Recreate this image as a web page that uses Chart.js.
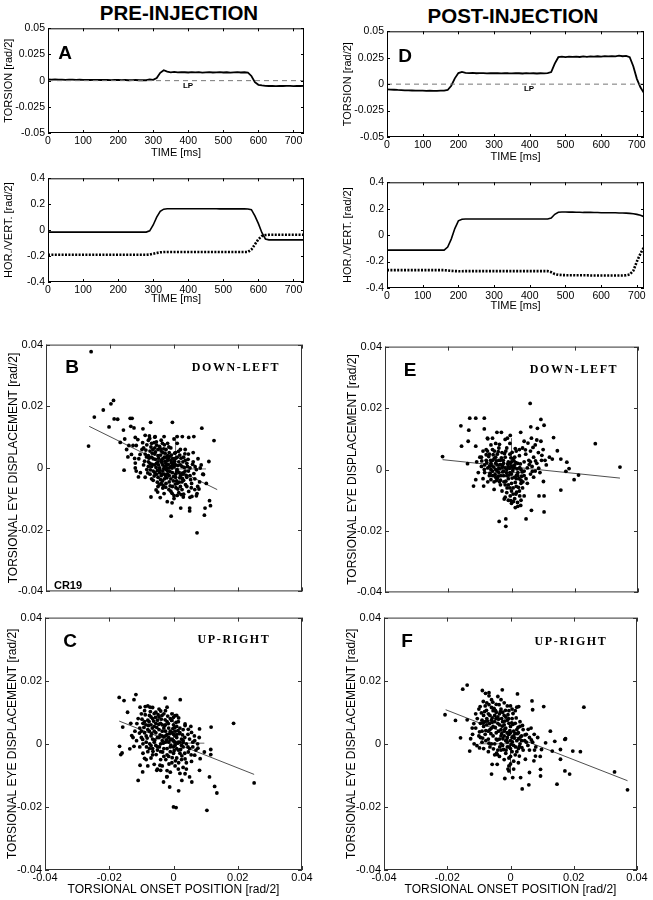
<!DOCTYPE html>
<html>
<head>
<meta charset="utf-8">
<script src="https://cdn.jsdelivr.net/npm/chart.js@4.4.1/dist/chart.umd.min.js"></script>
<style>
  body { margin: 0; background: #fff; width: 653px; height: 900px; position: relative; overflow: hidden;
         font-family: 'Liberation Sans', Arial, sans-serif; }
  canvas { position: absolute; }
  .t { position: absolute; transform: translate(-50%, -50%); white-space: nowrap; color: #000; line-height: 1; }
  .head { font-weight: bold; font-size: 20.5px; }
  .let { font-weight: bold; font-size: 19px; }
  .dir { font-family: 'Liberation Serif', 'DejaVu Serif', serif; font-weight: bold; font-size: 12px; letter-spacing: 1.6px; }
  .lp { font-weight: bold; font-size: 8px; }
  .cr { font-weight: bold; font-size: 11px; }
</style>
</head>
<body>
<!-- титулы колонок -->
<div class="t head" style="left:179px;top:13px">PRE-INJECTION</div>
<div class="t head" style="left:513px;top:16px">POST-INJECTION</div>

<canvas id="cA1"></canvas>
<canvas id="cA2"></canvas>
<canvas id="cD1"></canvas>
<canvas id="cD2"></canvas>
<canvas id="cB"></canvas>
<canvas id="cE"></canvas>
<canvas id="cC"></canvas>
<canvas id="cF"></canvas>

<!-- подписи панелей -->
<div class="t let" style="left:65px;top:52px">A</div>
<div class="t let" style="left:405px;top:55px">D</div>
<div class="t let" style="left:72px;top:366px">B</div>
<div class="t let" style="left:410px;top:369px">E</div>
<div class="t let" style="left:70px;top:640px">C</div>
<div class="t let" style="left:407px;top:640px">F</div>

<div class="t dir" style="left:236px;top:367px">DOWN-LEFT</div>
<div class="t dir" style="left:574px;top:369px">DOWN-LEFT</div>
<div class="t dir" style="left:234px;top:639px">UP-RIGHT</div>
<div class="t dir" style="left:571px;top:641px">UP-RIGHT</div>

<div class="t lp" style="left:188px;top:86px">LP</div>
<div class="t lp" style="left:529px;top:89px">LP</div>
<div class="t cr" style="left:68px;top:585px">CR19</div>

<script>
const SANS = "'Liberation Sans', Arial, sans-serif";

// ------------------------------------------------------------------
// Временные ряды (шаг 10 мс), торсия в единицах 1e-3 rad/2
// ------------------------------------------------------------------
const timeA = [0,10,20,30,40,50,60,70,80,90,100,110,120,130,140,150,160,170,180,190,
  200,210,220,230,240,250,260,270,280,290,300,310,320,330,340,350,360,370,380,390,
  400,410,420,430,440,450,460,470,480,490,500,510,520,530,540,550,560,570,580,590,
  600,610,620,630,640,650,660,670,680,690,700,710,720,730];
const torsionA = [1.2,1.0,1.1,0.9,1.0,0.8,1.0,0.9,0.8,0.9,
  0.7,0.8,0.6,0.7,0.8,0.6,0.7,0.6,0.5,0.6,
  0.7,0.5,0.6,0.4,0.5,0.6,0.4,0.5,0.4,1.2,
  0.8,2.5,7.5,10.0,8.6,8.0,8.3,7.9,8.1,8.0,
  7.8,8.2,7.9,8.1,7.7,8.0,8.2,7.8,7.9,8.1,
  7.8,8.0,7.7,7.9,8.1,7.8,8.0,7.6,4.5,-1.5,
  -4.0,-4.6,-4.9,-5.1,-5.0,-5.2,-5.0,-5.1,-4.9,-5.0,
  -5.2,-5.0,-5.1,-5.0];
const horA = [-0.015,-0.015,-0.015,-0.015,-0.015,-0.015,-0.015,-0.015,-0.015,-0.015,
  -0.015,-0.015,-0.015,-0.015,-0.015,-0.015,-0.015,-0.015,-0.015,-0.015,
  -0.015,-0.015,-0.015,-0.015,-0.015,-0.015,-0.015,-0.015,-0.015,-0.005,
  0.04,0.10,0.145,0.162,0.165,0.165,0.165,0.165,0.165,0.165,
  0.165,0.165,0.165,0.165,0.165,0.165,0.165,0.165,0.165,0.164,
  0.164,0.164,0.164,0.164,0.164,0.164,0.164,0.163,0.158,0.11,
  0.05,-0.02,-0.068,-0.075,-0.075,-0.075,-0.075,-0.075,-0.075,-0.075,
  -0.075,-0.075,-0.075,-0.075];
const vertA = [-0.19,-0.19,-0.19,-0.19,-0.19,-0.19,-0.19,-0.19,-0.19,-0.19,
  -0.19,-0.19,-0.19,-0.19,-0.19,-0.19,-0.19,-0.19,-0.19,-0.19,
  -0.19,-0.19,-0.19,-0.19,-0.19,-0.19,-0.19,-0.19,-0.19,-0.188,
  -0.182,-0.176,-0.171,-0.169,-0.168,-0.168,-0.168,-0.168,-0.168,-0.168,
  -0.168,-0.168,-0.168,-0.168,-0.168,-0.168,-0.168,-0.168,-0.168,-0.168,
  -0.168,-0.168,-0.168,-0.168,-0.168,-0.168,-0.168,-0.168,-0.15,-0.11,
  -0.07,-0.045,-0.038,-0.036,-0.036,-0.036,-0.036,-0.036,-0.036,-0.036,
  -0.036,-0.036,-0.036,-0.036];

const timeD = [0,10,20,30,40,50,60,70,80,90,100,110,120,130,140,150,160,170,180,190,
  200,210,220,230,240,250,260,270,280,290,300,310,320,330,340,350,360,370,380,390,
  400,410,420,430,440,450,460,470,480,490,500,510,520,530,540,550,560,570,580,590,
  600,610,620,630,640,650,660,670,680,690,700,710,720];
const torsionD = [-5.0,-5.2,-5.3,-5.5,-5.6,-5.8,-5.9,-6.0,-6.1,-6.2,
  -6.1,-6.3,-6.2,-6.4,-6.3,-6.2,-6.1,-5.5,-1.5,5.5,
  10.5,11.6,10.7,10.4,10.6,10.3,10.5,10.4,10.2,10.5,
  10.3,10.4,10.2,10.5,10.3,10.2,10.4,10.3,10.1,10.4,
  10.2,10.3,10.1,10.3,10.2,10.4,11.5,19.5,25.5,26.0,
  25.6,26.0,25.8,26.1,25.7,26.2,25.9,26.3,26.0,26.4,
  26.1,26.5,26.2,26.6,26.3,27.0,26.4,26.7,25.5,17.0,
  5.0,-3.0,-8.5];
const horD = [-0.113,-0.113,-0.113,-0.113,-0.113,-0.113,-0.113,-0.113,-0.113,-0.113,
  -0.113,-0.113,-0.113,-0.113,-0.113,-0.113,-0.113,-0.09,-0.03,0.05,
  0.108,0.12,0.122,0.122,0.122,0.122,0.122,0.122,0.122,0.122,
  0.122,0.122,0.122,0.122,0.122,0.122,0.122,0.122,0.122,0.122,
  0.122,0.122,0.122,0.122,0.122,0.122,0.13,0.158,0.173,0.175,
  0.175,0.174,0.174,0.173,0.173,0.172,0.172,0.172,0.171,0.171,
  0.170,0.170,0.170,0.169,0.169,0.168,0.168,0.167,0.165,0.162,
  0.157,0.15,0.14];
const vertD = [-0.265,-0.265,-0.265,-0.265,-0.265,-0.265,-0.265,-0.265,-0.265,-0.265,
  -0.265,-0.265,-0.265,-0.265,-0.265,-0.265,-0.265,-0.267,-0.27,-0.272,
  -0.273,-0.273,-0.272,-0.272,-0.272,-0.272,-0.272,-0.272,-0.272,-0.272,
  -0.272,-0.272,-0.272,-0.272,-0.272,-0.272,-0.272,-0.272,-0.272,-0.272,
  -0.272,-0.272,-0.272,-0.272,-0.272,-0.272,-0.28,-0.295,-0.30,-0.302,
  -0.303,-0.303,-0.303,-0.304,-0.304,-0.304,-0.304,-0.305,-0.305,-0.305,
  -0.305,-0.305,-0.305,-0.305,-0.305,-0.305,-0.305,-0.304,-0.298,-0.27,
  -0.2,-0.14,-0.09];

const zeroA = [[0, 0], [730, 0]];
const zeroD = [[0, 0], [720, 0]];

const timeTicks = [0, 100, 200, 300, 400, 500, 600, 700];
const torsionTicks = [-0.05, -0.025, 0, 0.025, 0.05];
const hvTicks = [-0.4, -0.2, 0, 0.2, 0.4];
const scatTicks = [-0.04, -0.02, 0, 0.02, 0.04];

// ------------------------------------------------------------------
// Разброс (единицы 1e-3 rad/2): [начальная позиция, смещение]
// ------------------------------------------------------------------
const dotsB = [[-25.9,37.7],[-26.7,7.1],[-24.9,16.5],[-22.1,18.8],[-20.3,13.3],[-19.7,20.8],[-18.9,21.9],
  [-18.7,15.9],[-17.6,15.8],[-16.8,8.3],[-15.8,12.3],[-15.6,-0.7],[-15.4,9.4],[-14.8,6.0],[-14.4,3.6],
  [-13.7,16.1],[-13.1,16.1],[-13.5,13.5],[-12.5,13.0],[-12.1,9.9],[-11.3,9.2],[-11.8,7.3],[-12.8,7.3],
  [-14.1,7.3],[-13.3,4.4],[-12.3,3.1],[-12.1,1.6],[-12.1,0],[-11.8,-1.0],[-11.1,-2.9],[-9.7,12.7],
  [-9.0,10.6],[-7.3,14.8],[-7.7,10.4],[-5.9,10.2],[-3.1,10.2],[-0.5,14.8],[0,9.4],[1.0,10.2],[2.6,10.2],
  [4.6,9.9],[6.2,10.2],[8.7,12.9],[12.5,8.9],[10.9,2.1],[8.2,0],[9.2,-2.1],[10.1,-5.0],[11.1,-10.6],
  [11.4,-12.2],[9.5,-15.3],[9.7,-13.0],[7.2,-21.0],[4.9,-13.0],[4.9,-13.9],[2.1,-13.0],[-0.9,-15.6],
  [-0.6,-11.3],[0,-9.9],[1.0,-8.9],[2.9,-9.4],[5.6,-9.2],[7.2,-8.3],[7.8,-6.8],[-5.1,-7.8],[-5.6,-7.1],
  [-7.2,-9.4],[-4.3,-9.6],[-3.1,-8.3],[-2.1,-10.9],
  [-10,6],[-9,4.5],[-8.5,7.5],[-8,2],[-7.5,5.5],[-7,0.5],[-7,8],[-6.5,3],[-6,6.5],[-6,-1.5],[-5.5,1.5],
  [-5,4],[-5,-3],[-4.5,7],[-4.5,0],[-4,2.5],[-4,-5],[-3.5,5],[-3.5,-1],[-3,3.5],[-3,0.5],[-3,-3.5],
  [-2.5,6],[-2.5,1.5],[-2,-2],[-2,4],[-1.5,0],[-1.5,-4.5],[-1,2.5],[-1,6.5],[-0.5,-1.5],[-0.5,-6],
  [0,3],[0,0.5],[0.5,-3],[0.5,5],[1,-0.5],[1,-5],[1.5,2],[2,-2.5],[2,6],[2.5,0.5],[2.5,-7],[3,3.5],
  [3,-4],[3.5,-1],[4,1.5],[4,-6],[4.5,4.5],[5,-2.5],[5,0],[5.5,-5],[6,2],[6.5,-3.5],[7,-0.5],[7.5,3],
  [8,-4.5],[-11,3],[-10.5,-1.5],[-9.5,1],[-9,-3],[-8.5,-0.5],[-8,9],[-7.5,-2],[-6.5,-4],[-6,10],
  [-5.5,8.5],[-5,-6],[-4,9],[-3.5,-6.5],[-2.5,-5],[-2,8],[-1,-7.5],[0,-9],[1,8],[1.5,-8],[3,-8.5],
  [3.5,6],[5,-9.5],[6,5],[6.5,-7],[7,-9],[8.5,1],[9,-2],[-9.5,6.5],[-8,4],[-7,3.5],[-6,1],[-5,2],
  [-4,5.5],[-3,7.5],[-2,2.5],[-1,0.5],[0,1.5],[1,3.5],[2,1],[3,-1.5],[4,-3],[-6.5,-1],[-5.5,-2],
  [-4.5,-1.5],[-3.5,1],[-2.5,-0.5],[-1.5,-2.5],[-0.5,3],[0.5,1],[1.5,-1.5],[2.5,-4.5],[3.5,2.5],
  [4.5,-1],[-8,0.5],[-7,-3.5],[-2,-1],[-1,-3.5],[0.5,-2],[2,-6],[-4,-2.5],[-3,-2],[-5,6],[-6,4.5],
  [-7.5,1.5],[-2.5,3.5],[-1.5,5],[-3.5,3],
  [-7.8,3.2],[-7.2,6.8],[-6.8,1.2],[-6.2,-2.6],[-5.8,5.2],[-5.2,-0.8],[-4.8,3.2],[-4.2,6.2],[-4.2,-3.8],
  [-3.8,1.8],[-3.2,-0.2],[-2.8,4.8],[-2.2,-3.2],[-1.8,1.2],[-1.2,-1.2],[-0.8,4.2],[-0.2,-2.8],[0.2,2.2],
  [0.8,-4.2],[1.2,0.8],[1.8,-3.2],[2.2,3.2],[2.8,-2],[3.2,0.2],[-6.8,4.8],[-6.2,8.2],[-5.8,2.8],
  [-5.2,-4.6],[-4.8,1.0],[-4.2,4.2],[-3.8,-2],[-3.2,6.2],[-2.8,2.2],[-2.2,-0.2],[-1.8,3.2],[-1.2,-5.8],
  [-0.8,1.8],[-0.2,-4.2],[0.2,4.8],[0.8,-1.2],[1.2,-6.8],[1.8,4.2],[2.8,2.0],[3.8,-2.4],[4.2,0.5],
  [5.2,-3.8],[5.8,1.2],[6.2,-1.8],[-9.2,2.2],[-8.8,5.8],[-8.2,-1.6],[-7.6,9.6],[-9.8,8.2],[-10.6,4.4],
  [-3.6,-4.2],[-2.6,-6.2],[-1.6,-7],[-0.6,-8.2],[0.6,-6.4],[2.2,-8.6],[3.6,-5.4],[4.6,-7.6],[5.4,-6.4],
  [6.6,0.4],[7.4,-6],[-6.6,6],[-5.6,0.2],[-4.6,-5.4],[-3.6,8],[-2.6,-2.6],[-1.6,6.8],[-0.6,0],[0.4,-5.2],
  [1.4,5.4],[2.4,-1.8],[3.4,4.6],[4.4,2.8],[-7.4,-0.6],[-8.6,3.6],[-5.4,7.4],[-4.4,-0.6],[-3.4,-5.6],
  [-2.4,0.8],[-1.4,3.8],[-0.4,1.2],[0.6,3.2],[1.6,-4.6],[2.6,-3.4]];
const fitB = [[-26.5, 13.5], [13.5, -7.0]];
const crossB = [[[0.5, -1], [0.5, 10.5]], [[0, -0.3], [10, -0.3]]];

const dotsE = [[-21.8,4.2],[-16.0,14.2],[-15.8,7.6],[-13.7,9.2],[-13.2,16.7],[-11.3,16.7],[-13.5,12.8],
  [-11.3,7.6],[-13.9,1.9],[-11.3,-3.3],[-8.6,16.7],[-8.6,13.2],[-7.6,10.2],[-6.0,10.2],[-4.6,12.1],
  [-3.2,12.1],[-1.3,10.2],[-0.4,11.1],[2.9,12.1],[4.0,9.2],[5.9,21.5],[6.1,13.9],[6.3,10.2],[8.2,13.4],
  [9.3,16.3],[10.3,14.4],[9.3,9.2],[13.3,10.4],[14.5,6.1],[12.9,3.4],[15.6,3.4],[17.5,2.4],[18.2,0.3],
  [17.2,-0.6],[19.8,-3.3],[21.2,-1.8],[26.5,8.4],[34.3,0.8],[15.6,-6.7],[10.1,-3.9],[10.3,-8.6],
  [10.3,-13.8],[8.7,-8.6],[6.3,-13.3],[4.6,-16.1],[-1.8,-16.1],[-3.9,-16.9],[-1.8,-18.5],[-2.3,-9.6],
  [-0.2,-10.1],[1.9,-10.7],[2.9,-11.7],[4.0,-8.6],[1.4,-8.0],[-5.5,-6.5],[-8.8,-5.4],[-12.0,-5.4],
  [-6.5,-3.3],
  [-10,4],[-9.5,1],[-9,6],[-8.5,-1],[-8,3],[-7.5,0.5],[-7,5],[-7,-2],[-6.5,2],[-6,6.5],[-6,-0.5],
  [-5.5,3.5],[-5,0],[-5,-2.5],[-4.5,5],[-4.5,1.5],[-4,-1],[-4,7],[-3.5,3],[-3.5,-3.5],[-3,0.5],
  [-3,5.5],[-2.5,-2],[-2.5,2],[-2,-5],[-2,4],[-1.5,0],[-1.5,7],[-1,-3],[-1,2.5],[-0.5,-6],[-0.5,5],
  [0,-1.5],[0,1],[0,-4.5],[0.5,3.5],[0.5,-8],[1,-2.5],[1,0.5],[1.5,-5.5],[1.5,6],[2,-1],[2,2],
  [2.5,-7],[2.5,4.5],[3,-3.5],[3,0],[3.5,7],[3.5,-6],[4,2.5],[4,-2],[4.5,5],[5,-4.5],[5,0.5],[5.5,3],
  [6,-1.5],[6,6],[6.5,1],[7,4],[7.5,-0.5],[7.5,8],[8,2],[8.5,5.5],[9,-1],[9.5,3],[10,6.5],[11,1.5],
  [12,4],[-11,2.5],[-10.5,-1],[-9,-3],[-8,6.5],[-7.5,-4],[-6.5,8],[-5.5,-4],[-3,-7],[-2,-9],[-1,-10],
  [0,-11],[1,-9.5],[2,-12],[3,-10],[-1.5,-7.5],[0.5,-6],[1.5,-3],[-3.5,-5],[-4.5,-3],[-6,3],[-8.5,1.5],
  [-9.5,4],[-2,0.5],[-1,1],[-0.5,-1],[0.5,0.5],[1,1.5],[-2.5,-0.5],[-3,1.5],[-4,0.5],[-5,2],[-6.5,0],
  [2,-2],[3,-4.5],[0,2.5],[-1.5,-2],[1,4],[4,-0.5],[6,2.5],[7,-2.5],[2.5,6.5],[-0.5,8.5],[-5,8.5],
  [-7.5,10],
  [-7.8,2.2],[-7.2,4.2],[-6.8,-1.2],[-6.2,1.2],[-5.8,4.8],[-5.2,-1.6],[-4.8,2.8],[-4.2,5.8],[-4.2,-2.2],
  [-3.8,0.2],[-3.2,3.8],[-2.8,-0.8],[-2.2,5.2],[-1.8,-3.8],[-1.2,1.8],[-0.8,-1.8],[-0.2,3.8],[0.2,-2.8],
  [0.8,2.8],[1.2,-4.2],[1.8,0.2],[2.2,-5.8],[2.8,1.8],[3.2,-2.2],[-6.6,3],[-5.6,0.8],[-4.6,-0.4],
  [-3.6,1.6],[-2.6,3],[-1.6,-1],[-0.6,0.4],[0.4,-0.4],[1.4,2.2],[2.4,-3],[3.4,-0.8],[-8.6,0],[-9.4,2.8],
  [-7.6,6],[-5.4,6],[-3.4,-2],[-2.4,-4],[-1.4,-6],[-0.4,-8.6],[0.6,-10.4],[1.6,-7.4],[2.6,-8.6],
  [3.6,-4],[1.2,-12.4],[0,-7],[-1,-5],[4.6,-3],[5.6,1.6],[6.6,-0.6],[7.6,2.8],[8.6,0.4],[9.6,4.6],
  [10.6,3],[8,9.6],[6.8,7.2],[5.2,8.6],[4.4,6.4],[-3.8,8.2],[-2,9.8],[-4,3],[-5,4],[-6,-2],[-7,1],
  [-8,4.8],[-0.4,2],[0.6,1.2],[1.6,-1.8],[2.6,0.6],[-1.8,6],[-2.8,1],[-3.8,-4],[-4.8,-3.6],[0.2,5.6],
  [1.2,6.8]];
const fitE = [[-21.8, 3.2], [34.3, -2.8]];
const crossE = [[[0, -0.2], [0, 10.2]], [[-8, -1], [4, -1]]];

const dotsC = [[-16.9,14.7],[-15.4,13.7],[-16.8,-0.8],[-16.4,-3.4],[-16.0,-2.9],[-15.8,5.3],[-14.3,10.0],
  [-12.3,14.0],[-11.7,15.6],[-13.3,6.5],[-13.0,2.6],[-12.3,-0.8],[-11.0,-11.6],[-10.4,-6.8],[-9.6,-8.9],
  [-10.4,11.6],[-8.8,11.8],[-7.3,11.6],[-2.6,14.5],[2.1,14.0],[0.5,8.9],[3.6,6.3],[5.4,5.5],[8.1,4.7],
  [11.7,5.3],[18.7,6.5],[11.6,-1.8],[11.6,-3.4],[11.2,-10.5],[12.8,-13.5],[13.5,-15.6],[10.4,-21.1],
  [0,-20.0],[0.8,-20.2],[1.6,-14.9],[-1.2,-13.7],[-3.1,-12.1],[-2.1,-10.5],[2.6,-11.6],[3.6,-9.5],
  [5.0,-10.5],[5.7,-12.1],[8.1,-8.4],[8.3,-4.7],[9.6,-2.6],[25.1,-12.4],[-5.2,-8.4],[-4.2,-6.8],
  [-11,8],[-10.5,5],[-10,9.5],[-10,2],[-9.5,6.5],[-9,3.5],[-9,10.5],[-8.5,0.5],[-8,7.5],[-8,4.5],
  [-7.5,-1.5],[-7.5,9],[-7,2.5],[-7,6],[-6.5,-3.5],[-6.5,8],[-6,4],[-6,0.5],[-5.5,10],[-5.5,6.5],
  [-5,2],[-5,-2],[-4.5,8.5],[-4.5,4.5],[-4,0],[-4,-5],[-3.5,6],[-3.5,2.5],[-3,9.5],[-3,-1.5],[-2.5,4],
  [-2.5,0.5],[-2,7],[-2,-3.5],[-1.5,2],[-1.5,5],[-1,-1],[-1,8],[-0.5,3.5],[-0.5,-6],[0,1],[0,-3],[0,6],
  [0.5,-0.5],[0.5,4],[1,2],[1,-4.5],[1.5,7],[1.5,-2],[2,0.5],[2,3.5],[2.5,-5],[2.5,1.5],[3,-1],[3,4.5],
  [3.5,-3],[3.5,2],[4,0],[4,-6],[4.5,3],[5,-1.5],[5,1.5],[5.5,-3.5],[6,0.5],[6.5,2.5],[7,-2],[7.5,0],
  [8,2],[-12,4],[-11.5,1],[-10.5,-1],[-9.5,-3],[-8.5,-5],[-7,-4.5],[-6,-6.5],[-5,-8],[-3.5,-7],[-2,-8.5],
  [-1,-9],[0.5,-7],[1.5,-8],[3,-7.5],[-8,12],[-6.5,11.5],[-4.5,11],[-2.5,10.5],[-0.5,9.5],[1,9],
  [-7.5,4],[-6.5,1.5],[-5.5,3.5],[-4.5,2],[-3.5,4],[-2.5,2.5],[-1.5,0.5],[-0.5,1.5],[0.5,2.5],[1.5,0.5],
  [2.5,-0.5],[-9,7],[-8.5,2.5],[-7,8.5],[-6,5.5],[-5,7.5],[-4,6.5],[-3,5],[-2,3],[-1,4],[0,3],[1,5.5],
  [2,5],[-4,-2.5],[-3,-4],[-2,-1.5],[-1,-2.5],[0,-1],[1,-1.5],[2,-3],[-5.5,-0.5],[-6.5,-1.5],[-3.5,1],
  [-2.5,6],[-1.5,-4],[0.5,0.5],[3,1],[4.5,-1],[6,-1],[-8,-2.5],[-9.5,0],[-10,4],
  [-9.8,7.8],[-9.2,5.2],[-8.8,9.2],[-8.2,1.8],[-7.8,5.8],[-7.2,10.2],[-6.8,3.2],[-6.2,7.2],[-5.8,1.2],
  [-5.2,5.2],[-4.8,9.2],[-4.2,2.8],[-3.8,7.8],[-3.2,0.2],[-2.8,5.8],[-2.2,1.2],[-1.8,8.8],[-1.2,3.2],
  [-0.8,-0.4],[-0.2,4.8],[0.2,-2.2],[0.8,6.8],[1.2,0.2],[1.8,3.2],[2.2,-1.8],[2.8,2.8],[-8.6,6],[-7.6,7],
  [-6.6,5],[-5.6,8.4],[-4.6,6.2],[-3.6,9],[-2.6,7.6],[-1.6,6.4],[-0.6,7.4],[0.4,5.2],[1.4,4.2],
  [-9.6,1.4],[-8.4,-1],[-7.4,0],[-6.4,-2.4],[-5.4,-3.4],[-4.4,-1],[-3.4,-2.6],[-2.4,-5],[-1.4,-6.4],
  [-0.4,-4.4],[0.6,-5.4],[1.6,-6],[2.6,-3.8],[3.6,-4.8],[4.6,-2.6],[5.6,-5.6],[6.6,-3.6],[7.6,-1.4],
  [-6,9.6],[-4,10.4],[-2,11.6],[0,8.4],[1.6,8.2],[3.6,5.8],[4.6,4.6],[5.6,3.6],[6.6,1],[-7,-0.6],
  [-5,-1],[-3,2.2],[-1,1.4],[1,3],[3,0.4],[-11.4,6.4],[-10.6,3.4],[-12.6,2],[-13.6,-1.6],[-9,-4.6],
  [-8,-7],[-4,-8.4],[-2,-10.4],[2,-9.4],[4,-8]];
const fitC = [[-16.9, 7.2], [25.1, -9.7]];
const crossC = [[[0, -3.2], [0, 10]], [[0, 0.2], [9.6, 0.2]]];

const dotsF = [[-20.7,9.2],[-17.4,7.4],[-15.8,1.9],[-15.1,17.3],[-13.7,18.6],[-13.7,7.6],[-12.9,-2.3],
  [-12.1,5.0],[-9.8,-1.3],[-8.9,16.9],[-7.9,16.0],[-6.8,16.2],[-5.8,-6.5],[-6.0,-9.6],[-4.2,-3.4],
  [-4.2,-6.5],[-2.6,17.1],[-1.8,-11.0],[-0.5,-8.6],[-0.5,-7.0],[0.7,-10.7],[2.2,15.8],[2.6,11.8],
  [3.2,-10.7],[3.7,-14.3],[5.8,-13.0],[6.0,-9.1],[6.8,13.6],[7.0,10.8],[9.8,-1.8],[9.5,-8.1],[9.5,-10.2],
  [10.5,11.8],[12.6,4.0],[14.0,0.8],[14.7,-12.8],[15.8,-4.9],[15.8,-1.8],[17.2,1.4],[17.2,-8.6],
  [17.4,1.6],[18.7,-9.6],[19.7,-2.3],[22.1,-2.5],[23.2,11.6],[32.9,-8.9],[37.0,-14.6],[13.2,-2.3],
  [11.1,0.3],[7.9,-3.9],[7.4,-5.4],[4.7,-4.9],[2.8,-3.9],
  [-11,5],[-10.5,8],[-10,2.5],[-10,11],[-9.5,6.5],[-9,4],[-9,0.5],[-8.5,9],[-8,3],[-8,12],[-7.5,6],
  [-7,1.5],[-7,9.5],[-6.5,4.5],[-6.5,-1],[-6,7.5],[-6,11.5],[-5.5,2.5],[-5.5,5.5],[-5,9],[-5,0],
  [-4.5,12.5],[-4.5,3.5],[-4,6.5],[-4,-2],[-3.5,9.5],[-3.5,1.5],[-3,4.5],[-3,11],[-2.5,7],[-2.5,-0.5],
  [-2,2.5],[-2,9],[-1.5,5],[-1.5,-3],[-1,0.5],[-1,7.5],[-0.5,3],[-0.5,10.5],[0,-1.5],[0,5.5],[0.5,2],
  [0.5,8],[1,-0.5],[1,4],[1.5,-3.5],[1.5,6.5],[2,1],[2.5,3.5],[2.5,-1.5],[3,5.5],[3,0],[3.5,2.5],[4,-2],
  [4,4.5],[4.5,1],[5,3],[5.5,-0.5],[6,2],[6.5,5],[7,0.5],[7.5,3],[8,-1],[-12,3],[-11.5,0],[-11,9.5],
  [-8.5,-1.5],[-7.5,13],[-6,14],[-4,15],[-2,13],[0,12],[1.5,10.5],[-3.5,-4],[-2,-5],[-0.5,-4.5],
  [1,-5.5],[2.5,-6],[-5,-3.5],[-7,-2.5],[-9.5,2],[-8,7],[-7,4],[-6,5],[-5,7],[-4,8.5],[-3,2.5],[-2,4],
  [-1,2],[0,3.5],[1,2.5],[2,4.5],[-6.5,9],[-5.5,10.5],[-3.5,6],[-2.5,10],[-1.5,1],[-0.5,6.5],[0.5,-2.5],
  [2,-2.5],[3.5,1],[-4.5,1.5],[-3,0],[-1,-1],[0,1],[-8.5,5.5],[-7.5,8],[-9,7.5],[-4.5,10],[-2,6],
  [-1,3.5],[3,7],[5,0.5],[6,-2],[-6,0],[-3,-2],[-1.5,8.5],[0.5,11],
  [-9.8,3.8],[-9.2,9.8],[-8.8,1.8],[-8.2,10.2],[-7.8,4.2],[-7.2,7.2],[-6.8,0.2],[-6.2,3.2],[-5.8,8.2],
  [-5.2,11.2],[-4.8,5.2],[-4.2,1.2],[-3.8,7.8],[-3.2,10.2],[-2.8,3.2],[-2.2,-1.8],[-1.8,7.2],[-1.2,1.2],
  [-0.8,9.2],[-0.2,4.2],[0.2,-0.2],[0.8,6.2],[1.2,1.8],[1.8,8.2],[2.2,3.2],[2.8,-0.8],[3.2,2.2],[3.8,5.8],
  [-8.6,6.6],[-7.6,10.6],[-6.6,6.4],[-5.6,13.2],[-4.6,8],[-3.6,12.4],[-2.6,5.6],[-1.6,10.6],[-0.6,8],
  [0.4,6.6],[1.4,3.2],[2.4,5.2],[-5.4,-1.6],[-4.4,-3],[-3.4,-1],[-2.4,1.6],[-1.4,-2],[-0.4,-1],[0.6,0.6],
  [1.6,-1],[2.6,1.6],[3.6,-1.2],[4.6,2.8],[5.6,4.6],[6.6,1.2],[7.6,-2],[8.6,2],[9.4,-4],[-11.6,6.4],
  [-12.6,1.6],[-10.6,-0.6],[-9.6,11.8],[-8.6,13.4],[-6.8,15.2],[-3,14],[-1,12],[0,-4],[0,-6.4],[-0.8,-8],
  [1,-8],[-0.6,3],[-1.8,4.6],[-2.8,8],[-3.8,4],[-4.8,10.6],[-5.8,6.8],[-6.8,12.4],[-7.8,1],[0.8,9.6],
  [2,11.6]];
const fitF = [[-20.5, 10.8], [37.0, -11.7]];
const crossF = [[[0, -0.7], [0, -9.6]], [[-10, 0], [0, 0]]];

// ------------------------------------------------------------------
const milli = arr => arr.map(p => ({ x: p[0] / 1000, y: p[1] / 1000 }));
const pairs = arr => arr.map(p => ({ x: p[0], y: p[1] }));
const series = (ts, vs, k) => ts.map((t, i) => ({ x: t, y: vs[i] * k }));
const fmt = v => Math.abs(v) < 1e-9 ? '0' : String(+v.toFixed(4));

// рамка и внутренние засечки, как в MATLAB
const framePlugin = {
  id: 'frame',
  afterDatasetsDraw(chart, args, opts) {
    const { ctx, chartArea: a, scales: { x, y } } = chart;
    ctx.save();
    ctx.strokeStyle = opts.color;
    ctx.lineWidth = 1;
    ctx.strokeRect(a.left + 0.5, a.top + 0.5, a.width - 1, a.height - 1);
    ctx.beginPath();
    x.ticks.forEach(t => {
      const px = Math.round(x.getPixelForValue(t.value)) + 0.5;
      ctx.moveTo(px, a.bottom); ctx.lineTo(px, a.bottom - opts.len);
      ctx.moveTo(px, a.top);    ctx.lineTo(px, a.top + opts.len);
    });
    y.ticks.forEach(t => {
      const py = Math.round(y.getPixelForValue(t.value)) + 0.5;
      ctx.moveTo(a.left, py);  ctx.lineTo(a.left + opts.len, py);
      ctx.moveTo(a.right, py); ctx.lineTo(a.right - opts.len, py);
    });
    ctx.stroke();
    ctx.restore();
  },
};

function makeChart(id, rect, m, cfg) {
  const cv = document.getElementById(id);
  cv.width  = rect.r - rect.l + m.l + m.r;
  cv.height = rect.b - rect.t + m.t + m.b;
  cv.style.left = (rect.l - m.l) + 'px';
  cv.style.top  = (rect.t - m.t) + 'px';
  return new Chart(cv, {
    type: 'scatter',
    data: { datasets: cfg.datasets },
    plugins: [framePlugin],
    options: {
      responsive: false,
      animation: false,
      devicePixelRatio: 1,
      layout: { padding: { top: m.t, right: m.r, left: 0, bottom: 0 } },
      plugins: {
        legend: { display: false },
        tooltip: { enabled: false },
        frame: { color: cfg.frameColor, len: cfg.tickLen },
      },
      scales: {
        x: {
          type: 'linear', position: 'bottom', min: cfg.xMin, max: cfg.xMax,
          afterBuildTicks: s => { s.ticks = cfg.xTicks.map(v => ({ value: v })); },
          afterFit: s => { s.height = m.b; },
          grid: { display: false, drawTicks: false },
          border: { display: false },
          ticks: { display: cfg.xLabels, padding: cfg.xPad, color: '#000', maxRotation: 0, autoSkip: false,
                   font: { family: SANS, size: cfg.tickSize }, callback: fmt },
          title: { display: !!cfg.xTitle, text: cfg.xTitle || '', color: '#000',
                   font: { family: SANS, size: cfg.titleSize }, padding: { top: 0, bottom: cfg.xTitlePad } },
        },
        y: {
          type: 'linear', position: 'left', min: cfg.yMin, max: cfg.yMax,
          afterBuildTicks: s => { s.ticks = cfg.yTicks.map(v => ({ value: v })); },
          afterFit: s => { s.width = m.l; },
          grid: { display: false, drawTicks: false },
          border: { display: false },
          ticks: { padding: 3, color: '#000', autoSkip: false,
                   font: { family: SANS, size: cfg.tickSize }, callback: fmt },
          title: { display: true, text: cfg.yTitle, color: '#000',
                   font: { family: SANS, size: cfg.titleSize }, padding: { top: cfg.yTitlePad, bottom: 0 } },
        },
      },
    },
  });
}

const lineDs = (data, width, extra) => Object.assign({
  data, showLine: true, pointRadius: 0, borderColor: '#000', borderWidth: width,
  backgroundColor: '#000', tension: 0,
}, extra || {});

// ------------------------------------------------------------------
// Верхние панели: торсия и гор./верт. положение
// ------------------------------------------------------------------
const mTime = (gap) => ({ l: 48, t: 8, r: 10, b: gap + 9 });
const timeCfg = (xMax, yMin, yMax, yTicks, yTitle, datasets) => ({
  datasets, xMin: 0, xMax, xTicks: timeTicks, yMin, yMax, yTicks,
  xLabels: true, xPad: 2, xTitle: 'TIME [ms]', xTitlePad: 2, yTitle, yTitlePad: 2,
  tickSize: 10.5, titleSize: 11, frameColor: '#000', tickLen: 3,
});
const zeroStyle = { borderColor: '#777', borderWidth: 1, borderDash: [5, 4] };
const dotStyle = { borderDash: [2, 1.4], borderCapStyle: 'butt' };

makeChart('cA1', { l: 48, t: 27, r: 304, b: 133 }, mTime(20), timeCfg(730, -0.05, 0.05, torsionTicks, 'TORSION [rad/2]', [
  lineDs(pairs(zeroA), 1, zeroStyle),
  lineDs(series(timeA, torsionA, 0.001), 1.8),
]));
makeChart('cA2', { l: 48, t: 177, r: 304, b: 282 }, mTime(17), timeCfg(730, -0.4, 0.4, hvTicks, 'HOR./VERT. [rad/2]', [
  lineDs(series(timeA, horA, 1), 1.6),
  lineDs(series(timeA, vertA, 1), 2.6, dotStyle),
]));
makeChart('cD1', { l: 387, t: 30, r: 644, b: 137 }, mTime(20), timeCfg(720, -0.05, 0.05, torsionTicks, 'TORSION [rad/2]', [
  lineDs(pairs(zeroD), 1, zeroStyle),
  lineDs(series(timeD, torsionD, 0.001), 1.8),
]));
makeChart('cD2', { l: 387, t: 181, r: 644, b: 288 }, mTime(18), timeCfg(720, -0.4, 0.4, hvTicks, 'HOR./VERT. [rad/2]', [
  lineDs(series(timeD, horD, 1), 1.6),
  lineDs(series(timeD, vertD, 1), 2.6, dotStyle),
]));

// ------------------------------------------------------------------
// Диаграммы рассеяния
// ------------------------------------------------------------------
const scatDatasets = (dots, fit, cross) => [
  { data: milli(dots), pointRadius: 1.9, pointBackgroundColor: '#000', pointBorderWidth: 0, showLine: false },
  lineDs(milli(fit), 0.8, { borderColor: '#222' }),
  lineDs(milli(cross[0]), 0.8, { borderColor: '#444' }),
  lineDs(milli(cross[1]), 0.8, { borderColor: '#444' }),
];
const scatCfg = (datasets, withX) => ({
  datasets, xMin: -0.04, xMax: 0.04, xTicks: scatTicks, yMin: -0.04, yMax: 0.04, yTicks: scatTicks,
  xLabels: withX, xPad: 1, xTitle: withX ? 'TORSIONAL ONSET POSITION [rad/2]' : '', xTitlePad: 0,
  yTitle: 'TORSIONAL EYE DISPLACEMENT [rad/2]', yTitlePad: 8,
  tickSize: 11, titleSize: 12, frameColor: '#333', tickLen: 4,
});

makeChart('cB', { l: 46, t: 343, r: 302, b: 597 }, { l: 48, t: 8, r: 18, b: 4 }, scatCfg(scatDatasets(dotsB, fitB, crossB), false));
makeChart('cE', { l: 385, t: 345, r: 638, b: 598 }, { l: 48, t: 8, r: 12, b: 4 }, scatCfg(scatDatasets(dotsE, fitE, crossE), false));
makeChart('cC', { l: 45, t: 616, r: 302, b: 870 }, { l: 48, t: 8, r: 18, b: 27 }, scatCfg(scatDatasets(dotsC, fitC, crossC), true));
makeChart('cF', { l: 384, t: 616, r: 637, b: 870 }, { l: 48, t: 8, r: 14, b: 27 }, scatCfg(scatDatasets(dotsF, fitF, crossF), true));
</script>
</body>
</html>
